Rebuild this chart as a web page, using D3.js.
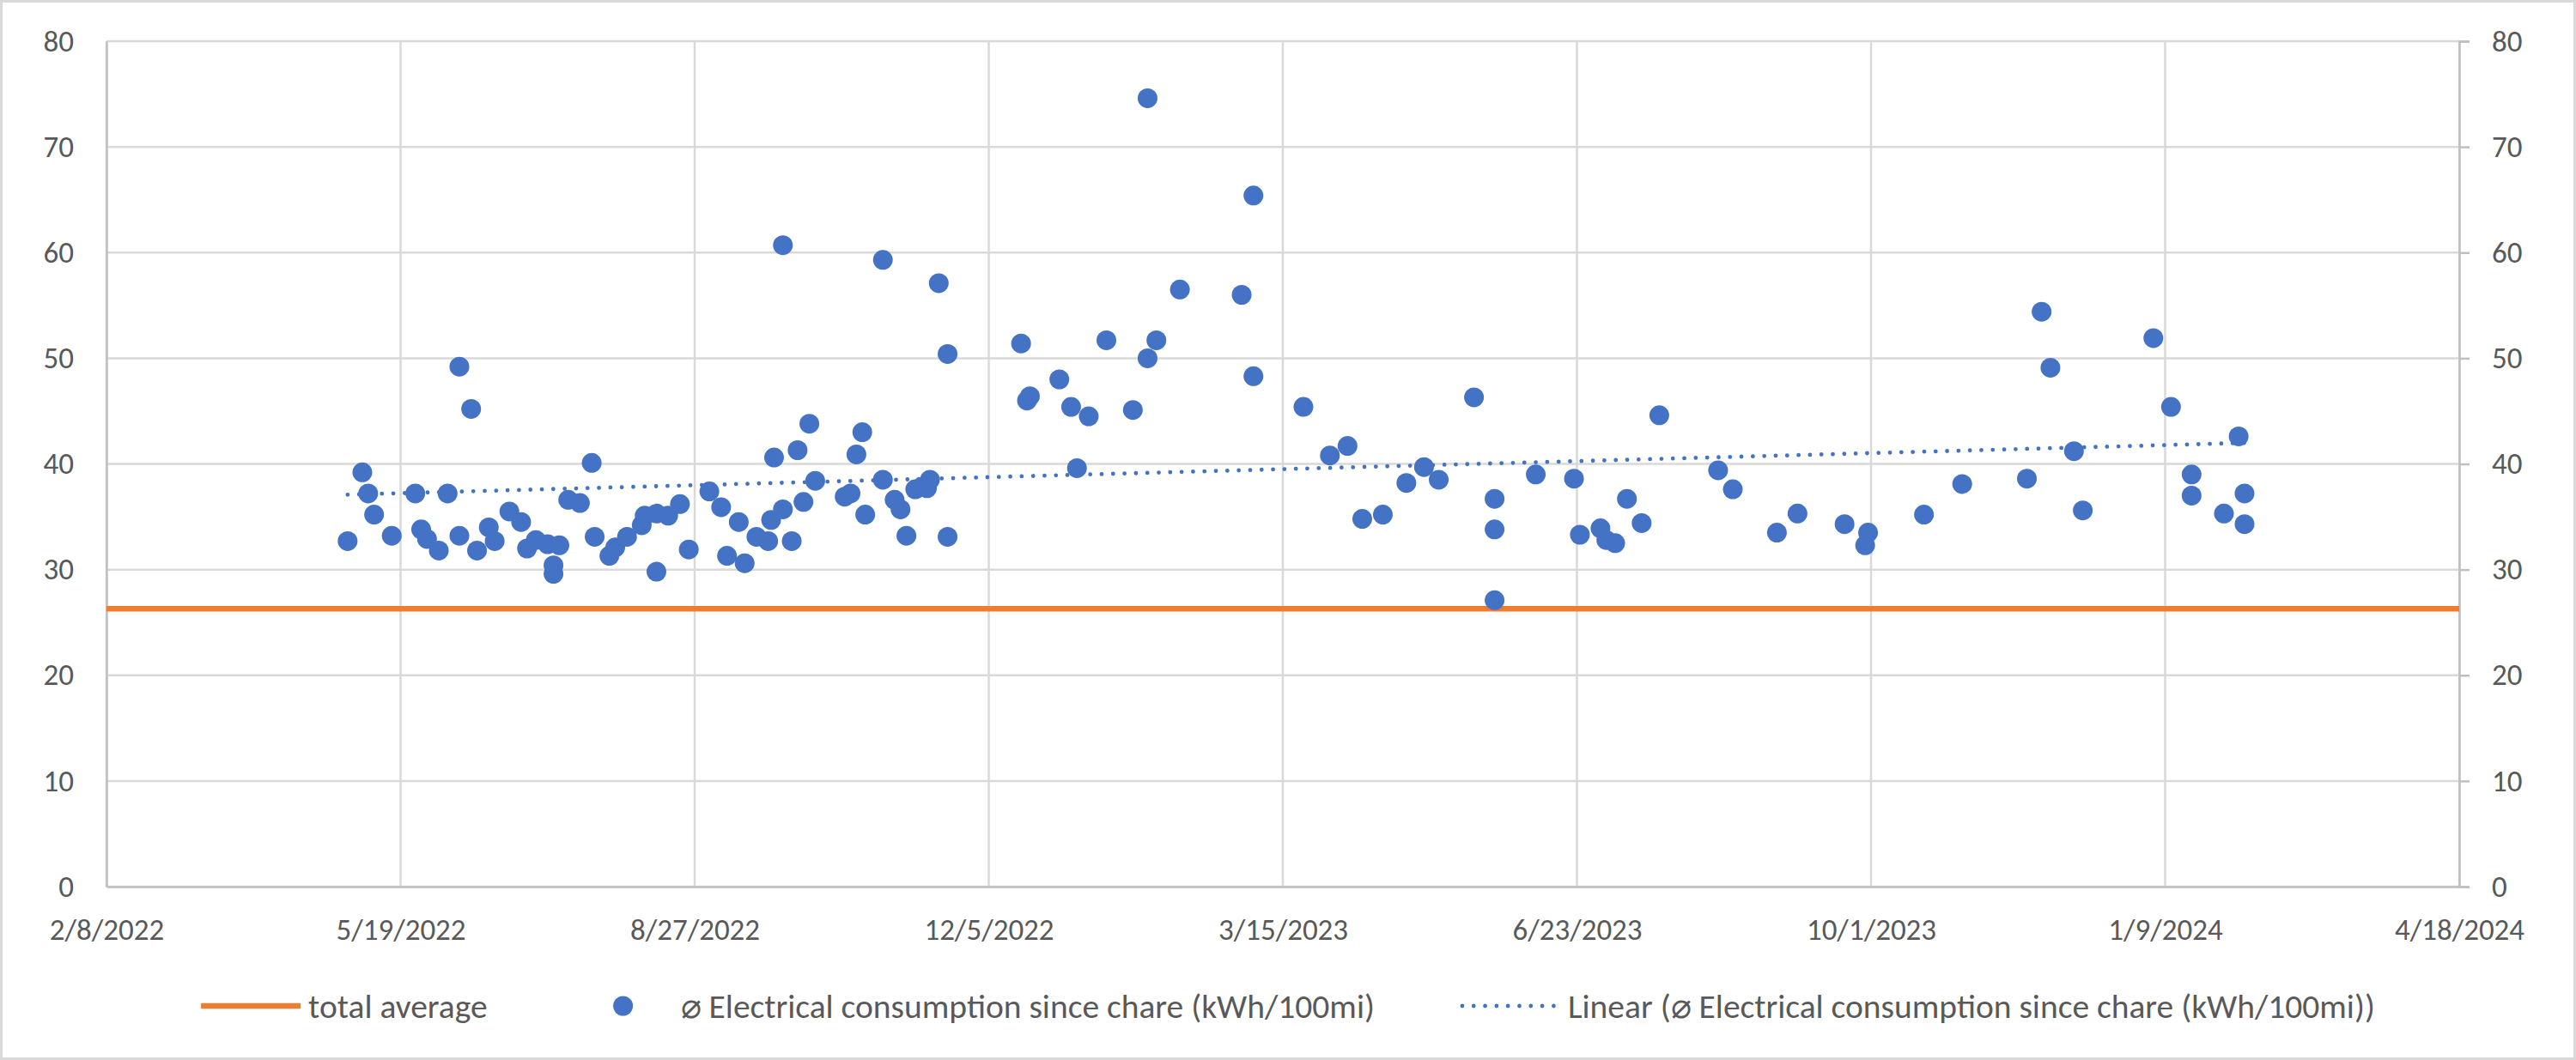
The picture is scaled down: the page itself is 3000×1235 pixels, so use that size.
<!DOCTYPE html>
<html>
<head>
<meta charset="utf-8">
<script src="https://cdn.jsdelivr.net/npm/d3@7"></script>
<style>
  body { margin: 0; background: #fff; }
  svg text { font-family: Carlito, Calibri, Lato, sans-serif; fill: #595959; }
</style>
</head>
<body>
<div id="chart"></div>
<script>
// one reading per charge session
var dates = [
  "2022-05-01","2022-05-06","2022-05-08","2022-05-10","2022-05-16","2022-05-24","2022-05-26","2022-05-28","2022-06-01","2022-06-04",
  "2022-06-08","2022-06-08","2022-06-12","2022-06-14","2022-06-18","2022-06-20","2022-06-25","2022-06-29","2022-07-01","2022-07-04",
  "2022-07-08","2022-07-10","2022-07-10","2022-07-12","2022-07-15","2022-07-19","2022-07-23","2022-07-24","2022-07-29","2022-07-31",
  "2022-08-04","2022-08-09","2022-08-10","2022-08-14","2022-08-14","2022-08-18","2022-08-22","2022-08-25","2022-09-01","2022-09-05",
  "2022-09-07","2022-09-11","2022-09-13","2022-09-17","2022-09-21","2022-09-22","2022-09-23","2022-09-26","2022-09-26","2022-09-29",
  "2022-10-01","2022-10-03","2022-10-05","2022-10-07","2022-10-17","2022-10-19","2022-10-21","2022-10-23","2022-10-24","2022-10-30",
  "2022-10-30","2022-11-03","2022-11-05","2022-11-07","2022-11-10","2022-11-12","2022-11-14","2022-11-15","2022-11-18","2022-11-21",
  "2022-11-21","2022-12-16","2022-12-18","2022-12-19","2022-12-29","2023-01-02","2023-01-04","2023-01-08","2023-01-14","2023-01-23",
  "2023-01-28","2023-01-28","2023-01-31","2023-02-08","2023-03-01","2023-03-05","2023-03-05","2023-03-22","2023-03-31","2023-04-06",
  "2023-04-11","2023-04-18","2023-04-26","2023-05-02","2023-05-07","2023-05-19","2023-05-26","2023-05-26","2023-05-26","2023-06-09",
  "2023-06-22","2023-06-24","2023-07-01","2023-07-03","2023-07-06","2023-07-10","2023-07-15","2023-07-21","2023-08-10","2023-08-15",
  "2023-08-30","2023-09-06","2023-09-22","2023-09-29","2023-09-30","2023-10-19","2023-11-01","2023-11-23","2023-11-28","2023-12-01",
  "2023-12-09","2023-12-12","2024-01-05","2024-01-11","2024-01-18","2024-01-18","2024-01-29","2024-02-03","2024-02-05","2024-02-05"
]
var consumption = [
  32.7, 39.2, 37.2, 35.2, 33.2, 37.2, 33.8, 32.9, 31.8, 37.2,
  49.2, 33.2, 45.2, 31.8, 34.0, 32.7, 35.5, 34.5, 32.0, 32.8,
  32.4, 30.4, 29.6, 32.3, 36.6, 36.3, 40.1, 33.1, 31.3, 32.1,
  33.1, 34.2, 35.1, 29.8, 35.3, 35.1, 36.2, 31.9, 37.4, 35.9,
  31.3, 34.5, 30.6, 33.1, 32.7, 34.7, 40.6, 35.7, 60.7, 32.7,
  41.3, 36.4, 43.8, 38.4, 36.9, 37.2, 40.9, 43.0, 35.2, 38.5,
  59.3, 36.6, 35.7, 33.2, 37.6, 37.8, 37.7, 38.5, 57.1, 50.4,
  33.1, 51.4, 46.0, 46.4, 48.0, 45.4, 39.6, 44.5, 51.7, 45.1,
  50.0, 74.6, 51.7, 56.5, 56.0, 65.4, 48.3, 45.4, 40.8, 41.7,
  34.8, 35.2, 38.2, 39.7, 38.5, 46.3, 36.7, 33.8, 27.1, 39.0,
  38.6, 33.3, 33.9, 32.8, 32.5, 36.7, 34.4, 44.6, 39.4, 37.6,
  33.5, 35.3, 34.3, 32.3, 33.5, 35.2, 38.1, 38.6, 54.4, 49.1,
  41.2, 35.6, 51.9, 45.4, 39.0, 37.0, 35.3, 42.6, 37.2, 34.3
]
var totalAverage = 26.3
var xTickLabels = ["2/8/2022", "5/19/2022", "8/27/2022", "12/5/2022", "3/15/2023", "6/23/2023", "10/1/2023", "1/9/2024", "4/18/2024"]
var yTicks = [0, 10, 20, 30, 40, 50, 60, 70, 80]
var legendLabels = [
  "total average",
  "\u2300 Electrical consumption since chare (kWh/100mi)",
  "Linear (\u2300 Electrical consumption since chare (kWh/100mi))"
]

var width = 3000
var height = 1235
var margin = {top: 48, right: 136, bottom: 202, left: 124}
var plotW = width - margin.left - margin.right
var plotH = height - margin.top - margin.bottom

var blue = '#4472C4'
var orange = '#ED7D31'
var grid = '#d9d9d9'
var tickFont = 35
var legendFont = 39.5

var parseDay = d3.utcParse('%Y-%m-%d')
var parseTick = d3.utcParse('%m/%d/%Y')
var tickDates = xTickLabels.map(parseTick)
var points = dates.map(function(d, i) { return {date: parseDay(d), value: consumption[i]} })

var x = d3.scaleUtc()
  .domain([tickDates[0], tickDates[tickDates.length - 1]])
  .range([0, plotW])
var y = d3.scaleLinear()
  .domain([0, 80])
  .range([plotH, 0])

var svg = d3.select('#chart').append('svg')
  .attr('width', width)
  .attr('height', height)

svg.append('rect')
  .attr('x', 1.5).attr('y', 1.5)
  .attr('width', width - 3).attr('height', height - 3)
  .attr('fill', '#fff')
  .attr('stroke', grid)
  .attr('stroke-width', 3)

var chart = svg.append('g')
  .attr('transform', 'translate(' + margin.left + ',' + margin.top + ')')

// gridlines
chart.append('g')
  .selectAll('line')
  .data(yTicks)
  .enter().append('line')
    .attr('x1', 0).attr('x2', plotW)
    .attr('y1', function(d) { return y(d) }).attr('y2', function(d) { return y(d) })
    .attr('stroke', grid).attr('stroke-width', 2.5)

chart.append('g')
  .selectAll('line')
  .data(tickDates)
  .enter().append('line')
    .attr('x1', function(d) { return x(d) }).attr('x2', function(d) { return x(d) })
    .attr('y1', 0).attr('y2', plotH)
    .attr('stroke', grid).attr('stroke-width', 2.5)

// axes
var xAxis = d3.axisBottom(x)
  .tickValues(tickDates)
  .tickFormat(function(d, i) { return xTickLabels[i] })
  .tickSize(0)
  .tickPadding(0)
var yLeft = d3.axisLeft(y).tickValues(yTicks).tickSize(0).tickPadding(38)
var yRight = d3.axisRight(y).tickValues(yTicks).tickSize(12).tickPadding(26)

var gx = chart.append('g').attr('transform', 'translate(0,' + plotH + ')').call(xAxis)
gx.selectAll('text').attr('y', 62).attr('dy', 0)
var gl = chart.append('g').call(yLeft)
var gr = chart.append('g').attr('transform', 'translate(' + plotW + ',0)').call(yRight)

;[gx, gl, gr].forEach(function(g) {
  g.select('.domain').attr('stroke', '#bfbfbf').attr('stroke-width', 2.5)
  g.selectAll('.tick line').attr('stroke', '#bfbfbf').attr('stroke-width', 2.5)
  g.selectAll('text')
    .style('font-size', tickFont + 'px')
    .style('font-family', 'Carlito, Calibri, Lato, sans-serif')
    .attr('fill', '#595959')
})

// total average line
chart.append('line')
  .attr('x1', x(tickDates[0])).attr('x2', x(tickDates[tickDates.length - 1]))
  .attr('y1', y(totalAverage)).attr('y2', y(totalAverage))
  .attr('stroke', orange).attr('stroke-width', 6.5)

// scatter
chart.append('g')
  .selectAll('circle')
  .data(points)
  .enter().append('circle')
    .attr('cx', function(d) { return x(d.date) })
    .attr('cy', function(d) { return y(d.value) })
    .attr('r', 11.5)
    .attr('fill', blue)

// linear trend (least squares on days)
var dayMs = 86400000
var xs = points.map(function(d) { return d.date / dayMs })
var ys = points.map(function(d) { return d.value })
var mx = d3.mean(xs), my = d3.mean(ys)
var sxy = d3.sum(xs, function(v, i) { return (v - mx) * (ys[i] - my) })
var sxx = d3.sum(xs, function(v) { return (v - mx) * (v - mx) })
var slope = sxy / sxx
var icpt = my - slope * mx
var ext = d3.extent(points, function(d) { return d.date })
var trend = ext.map(function(d) { return {date: d, value: icpt + slope * (d / dayMs)} })

chart.append('path')
  .datum(trend)
  .attr('d', d3.line()
    .x(function(d) { return x(d.date) })
    .y(function(d) { return y(d.value) }))
  .attr('fill', 'none')
  .attr('stroke', blue)
  .attr('stroke-width', 4.8)
  .attr('stroke-linecap', 'round')
  .attr('stroke-dasharray', '0.01 13.3')

// legend
var legendY = 1172
var sampleW = 116
var legend = svg.append('g')
var items = legend.selectAll('g')
  .data(legendLabels)
  .enter().append('g')

items.append('text')
  .attr('x', sampleW + 9)
  .attr('y', 0)
  .attr('dy', '0.35em')
  .style('font-size', legendFont + 'px')
  .text(function(d) { return d })

var offs = []
var cur = 0
items.each(function(d, i) {
  var w = d3.select(this).select('text').node().getComputedTextLength()
  offs.push(cur)
  cur += sampleW + 9 + w + 100
})
var total = cur - 100
var start = width / 2 - total / 2
items.attr('transform', function(d, i) { return 'translate(' + (start + offs[i]) + ',' + legendY + ')' })

items.filter(function(d, i) { return i === 0 }).append('line')
  .attr('x1', 0).attr('x2', sampleW).attr('y1', 0).attr('y2', 0)
  .attr('stroke', orange).attr('stroke-width', 6.5)
items.filter(function(d, i) { return i === 1 }).append('circle')
  .attr('cx', sampleW / 2).attr('cy', 0).attr('r', 11.5).attr('fill', blue)
items.filter(function(d, i) { return i === 2 }).append('line')
  .attr('x1', 2).attr('x2', sampleW - 2).attr('y1', 0).attr('y2', 0)
  .attr('stroke', blue).attr('stroke-width', 4.8)
  .attr('stroke-linecap', 'round').attr('stroke-dasharray', '0.01 13.3')
</script>
</body>
</html>
